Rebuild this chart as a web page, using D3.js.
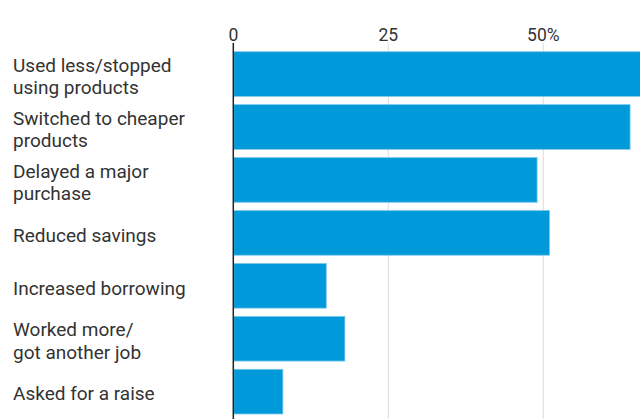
<!DOCTYPE html>
<html><head><meta charset="utf-8">
<script src="https://cdn.jsdelivr.net/npm/d3@7"></script>
<style>html,body{margin:0;padding:0;background:#fff;}svg{display:block;}</style>
</head><body>
<script>
const categories = [
  ["Used less/stopped", "using products"],
  ["Switched to cheaper", "products"],
  ["Delayed a major", "purchase"],
  ["Reduced savings"],
  ["Increased borrowing"],
  ["Worked more/", "got another job"],
  ["Asked for a raise"]
];
const values = [67, 64, 49, 51, 15, 18, 8];
const tickValues = [0, 25, 50];
const tickLabels = ["0", "25", "50%"];

const W = 640, H = 419;
const svg = d3.select("body").append("svg").attr("width", W).attr("height", H);
const font = "Roboto, sans-serif";

const x = d3.scaleLinear().domain([0, 50]).range([233.3, 543.3]);
const keys = categories.map(c => c.join(" "));
const y = d3.scaleBand().domain(keys).range([47.6, 418.1]).paddingInner(0.155).paddingOuter(0.0775);

// gridlines
svg.append("g").selectAll("line").data(tickValues.slice(1)).join("line")
  .attr("x1", d => x(d)).attr("x2", d => x(d))
  .attr("y1", 43).attr("y2", H)
  .attr("stroke", "#dcdcdc").attr("stroke-width", 1);

// tick labels
svg.append("g").selectAll("text").data(tickValues).join("text")
  .attr("x", (d, i) => x(d)).attr("y", 40.5)
  .attr("text-anchor", "middle")
  .attr("font-family", font).attr("font-size", 17.5).attr("fill", "#333")
  .text((d, i) => tickLabels[i]);

// bars
svg.append("g").selectAll("rect").data(values).join("rect")
  .attr("x", x(0) + 0.5)
  .attr("y", (d, i) => y(keys[i]))
  .attr("width", d => x(d) - x(0) - 0.5)
  .attr("height", y.bandwidth())
  .attr("fill", "#0099d9")
  .attr("stroke", "#7fcaec").attr("stroke-width", 0.8);

// zero line
svg.append("line").attr("x1", x(0)).attr("x2", x(0)).attr("y1", 43).attr("y2", H)
  .attr("stroke", "#222").attr("stroke-width", 1.5);

// category labels
const fs = 19, lh = 22.3, cap = fs * 0.711;
const lab = svg.append("g").selectAll("text").data(categories).join("text")
  .attr("font-family", font).attr("font-size", fs).attr("fill", "#333")
  .attr("x", 13)
  .attr("y", (d, i) => y(keys[i]) + y.bandwidth() / 2 + 2 - ((d.length - 1) * lh + cap) / 2 + cap);
lab.selectAll("tspan").data(d => d).join("tspan")
  .attr("x", 13).attr("dy", (d, i) => i === 0 ? 0 : lh).text(d => d);
</script>
</body></html>
